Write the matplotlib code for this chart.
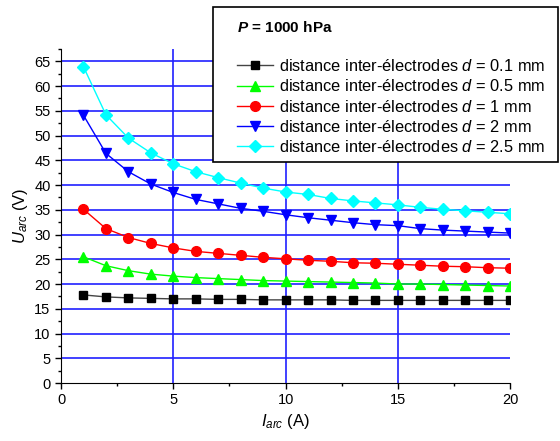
import numpy as np
import matplotlib
matplotlib.use("Agg")
import matplotlib.pyplot as plt
from matplotlib.patches import Rectangle
from matplotlib.ticker import MultipleLocator

plt.rcParams['font.family'] = ['Liberation Sans', 'DejaVu Sans']
plt.rcParams['mathtext.fontset'] = 'custom'
plt.rcParams['mathtext.rm'] = 'Liberation Sans'
plt.rcParams['mathtext.it'] = 'Liberation Sans:italic'
plt.rcParams['mathtext.bf'] = 'Liberation Sans:bold'
plt.rcParams['mathtext.bfit'] = 'Liberation Sans:bold:italic'

# arc current (A)
I_arc = np.arange(1, 21)

# arc voltage (V) for each inter-electrode distance
U_d01 = [17.8, 17.4, 17.2, 17.1, 17.0, 17.0, 16.9, 16.9, 16.8, 16.8,
         16.8, 16.8, 16.7, 16.7, 16.7, 16.7, 16.7, 16.7, 16.7, 16.7]
U_d05 = [25.5, 23.7, 22.7, 22.0, 21.6, 21.3, 21.1, 20.9, 20.7, 20.6,
         20.5, 20.4, 20.3, 20.2, 20.0, 20.0, 19.9, 19.8, 19.7, 19.6]
U_d1 = [35.1, 31.2, 29.4, 28.2, 27.3, 26.6, 26.2, 25.8, 25.4, 25.1,
        24.8, 24.6, 24.3, 24.2, 24.0, 23.8, 23.6, 23.5, 23.3, 23.2]
U_d2 = [54.1, 46.4, 42.7, 40.2, 38.5, 37.1, 36.2, 35.3, 34.7, 34.0,
        33.4, 32.9, 32.4, 32.0, 31.8, 31.2, 30.9, 30.7, 30.5, 30.3]
U_d25 = [63.9, 54.2, 49.5, 46.5, 44.3, 42.7, 41.5, 40.4, 39.4, 38.6,
         38.1, 37.3, 36.8, 36.4, 36.0, 35.5, 35.1, 34.8, 34.5, 34.2]

distances = ['0.1', '0.5', '1', '2', '2.5']
series = [U_d01, U_d05, U_d1, U_d2, U_d25]
markers = ['s', '^', 'o', 'v', 'D']
colors = ['black', '#00ff00', '#ff0000', '#0000ff', '#00ffff']
line_colors = ['#444444', '#00ff00', '#ff0000', '#0000ff', '#00ffff']
msizes = [6, 7.5, 7, 7.5, 6.5]

fig = plt.figure(figsize=(5.6, 4.41), dpi=100)
ax = fig.add_axes([0.109, 0.1315, 0.802, 0.7574])

for y, m, c, lc, ms, d in zip(series, markers, colors, line_colors, msizes, distances):
    ax.plot(I_arc, y, color=lc, lw=1, marker=m, ms=ms, mfc=c, mec=c, zorder=3,
            label='distance inter-électrodes $d$ = %s mm' % d)

ax.set_xlim(0, 20)
ax.set_ylim(0, 67.5)
ax.xaxis.set_major_locator(MultipleLocator(5))
ax.xaxis.set_minor_locator(MultipleLocator(2.5))
ax.yaxis.set_major_locator(MultipleLocator(5))
ax.yaxis.set_minor_locator(MultipleLocator(2.5))

for v in [5, 10, 15]:
    ax.axvline(v, color='#2020ff', lw=1.2, zorder=1)
for v in range(5, 70, 5):
    ax.axhline(v, color='#2020ff', lw=1.2, zorder=1)

ax.spines['top'].set_visible(False)
ax.spines['right'].set_visible(False)
ax.tick_params(which='major', direction='out', length=4, width=1, labelsize=10.5)
ax.tick_params(which='minor', direction='out', length=2.5, width=1)

ax.set_xlabel('$I_{arc}$ (A)', fontsize=12, labelpad=3)
ax.set_ylabel('$U_{arc}$ (V)', fontsize=12, labelpad=3)

# legend box drawn separately so its padding can match the original
W, H = 560, 441
fig.patches.append(Rectangle((213 / W, 1 - 162 / H), 345 / W, 155 / H,
                             transform=fig.transFigure, facecolor='white',
                             edgecolor='black', lw=1.2, zorder=5))

leg = fig.legend(loc='upper left', bbox_to_anchor=(237 / W, 1 - 20 / H),
                 bbox_transform=fig.transFigure, fontsize=11.75, borderaxespad=0,
                 title=r'$\mathbfit{P}$ = 1000 hPa' + '\n', alignment='left',
                 title_fontproperties={'weight': 'bold', 'size': 11},
                 handlelength=2.2, handletextpad=0.37, labelspacing=0.26,
                 borderpad=0, frameon=False)
leg.get_title().set_linespacing(1.45)
leg.set_zorder(6)

plt.savefig('out.png', dpi=100)
